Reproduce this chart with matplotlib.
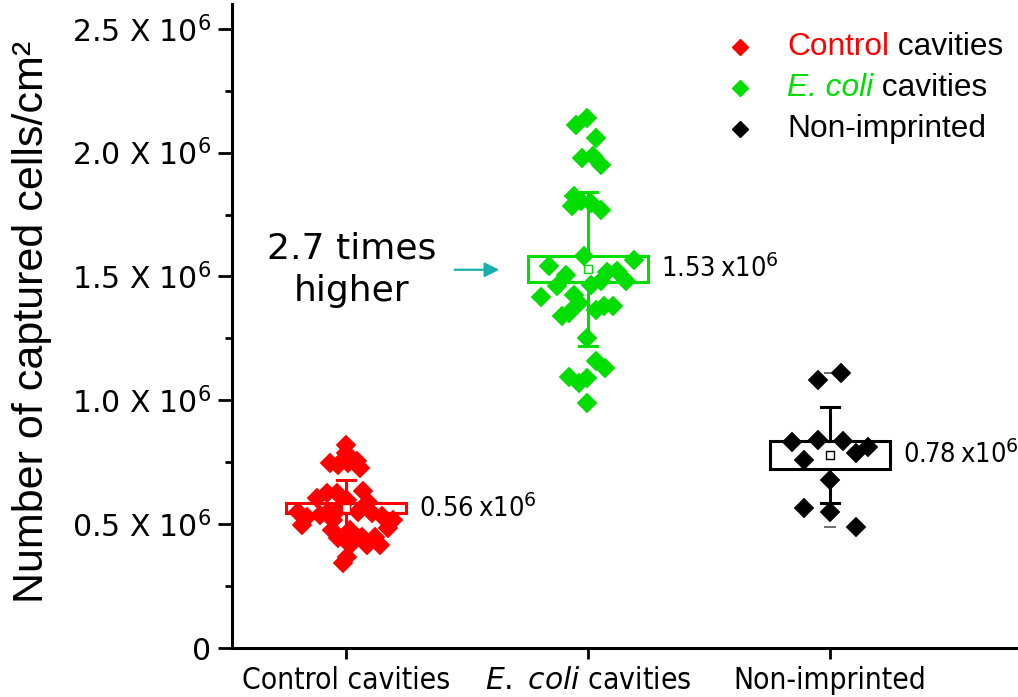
import numpy as np
import matplotlib.pyplot as plt
from matplotlib.patches import Rectangle

# Captured cells per cm^2 (x10^6), with horizontal jitter
control_vals = [0.820, 0.787, 0.746, 0.739, 0.746, 0.753, 0.726,
                0.605, 0.625, 0.625, 0.598, 0.632, 0.591, 0.551, 0.530,
                0.497, 0.537, 0.551, 0.558, 0.517, 0.551, 0.544, 0.531,
                0.517, 0.484, 0.477, 0.443, 0.477, 0.450, 0.450, 0.416,
                0.416, 0.416, 0.369, 0.343]
control_jitter = [0.0, 0.0, -0.066, -0.032, 0.010, 0.044, 0.058,
                  -0.121, -0.080, -0.038, 0.003, 0.072, 0.092, -0.197, -0.162,
                  -0.183, -0.107, -0.073, -0.032, -0.052, 0.051, 0.106, 0.148,
                  0.195, 0.175, -0.059, -0.032, 0.017, 0.065, 0.120, 0.140,
                  0.085, 0.017, 0.003, -0.011]

ecoli_vals = [2.113, 2.140, 2.059, 1.979, 1.985, 1.952, 1.823, 1.786, 1.803,
              1.797, 1.770, 1.581, 1.543, 1.565, 1.507, 1.460, 1.419, 1.520,
              1.524, 1.480, 1.467, 1.480, 1.426, 1.393, 1.339, 1.352, 1.366,
              1.379, 1.379, 1.251, 1.157, 1.130, 1.096, 1.069, 1.090, 0.989]
ecoli_jitter = [-0.048, -0.003, 0.032, -0.024, 0.021, 0.052, -0.058, -0.065,
                -0.030, 0.011, 0.052, -0.017, -0.161, 0.190, -0.092, -0.127,
                -0.195, 0.080, 0.121, 0.052, 0.011, 0.156, -0.058, -0.037,
                -0.106, -0.079, 0.032, 0.066, 0.103, -0.003, 0.032, 0.070,
                -0.079, -0.037, -0.003, -0.003]

nonimp_vals = [1.080, 1.110, 0.831, 0.840, 0.836, 0.813, 0.787, 0.760,
               0.679, 0.567, 0.551, 0.490]
nonimp_jitter = [-0.048, 0.045, -0.156, -0.051, 0.055, 0.158, 0.106, -0.106,
                 0.0, -0.106, 0.0, 0.106]

# summary stats (x10^6): box = mean +/- SE, whiskers = mean +/- SD
group_mean = [0.564, 1.531, 0.780]
group_sd = [0.115, 0.311, 0.193]
group_se = [0.020, 0.052, 0.056]

categories = ['Control cavities', r'$\mathit{E.}$ $\mathit{coli}$ cavities', 'Non-imprinted']
colors = ['#ff0000', '#00dd00', '#000000']

ytick_vals = [0, 0.5, 1.0, 1.5, 2.0, 2.5]
ytick_labels = ['0'] + ['%.1f X 10$^6$' % v for v in ytick_vals[1:]]

fig = plt.figure(figsize=(10.18, 6.97), dpi=100)
ax = fig.add_axes([232 / 1018, 49 / 697, 1 - 232 / 1018, 644 / 697])

groups = [(control_vals, control_jitter), (ecoli_vals, ecoli_jitter),
          (nonimp_vals, nonimp_jitter)]
half_w = 0.247
cap_w = 0.036
lw = 2.2
for i, (vals, jit) in enumerate(groups):
    pos = i + 1
    col = colors[i]
    vals = np.array(vals) * 1e6
    jit = np.array(jit)
    m = group_mean[i] * 1e6
    sd = group_sd[i] * 1e6
    se = group_se[i] * 1e6

    # box
    ax.add_patch(Rectangle((pos - half_w, m - se), 2 * half_w, 2 * se,
                           fill=False, ec=col, lw=lw, zorder=2))
    # whiskers + caps
    ax.plot([pos, pos], [m + se, m + sd], color=col, lw=lw, zorder=2)
    ax.plot([pos, pos], [m - sd, m - se], color=col, lw=lw, zorder=2)
    ax.plot([pos - cap_w, pos + cap_w], [m + sd, m + sd], color=col, lw=lw, zorder=2)
    ax.plot([pos - cap_w, pos + cap_w], [m - sd, m - sd], color=col, lw=lw, zorder=2)
    # min / max dashes
    ax.plot([pos, pos], [vals.min(), vals.max()], ls='none', marker='_',
            ms=9, mew=1.2, color='#555555' if col == '#000000' else col, zorder=1)
    # points
    ax.plot(pos + jit, vals, ls='none', marker='D', ms=9.8, color=col,
            mec=col, mew=0.3, zorder=3)
    # mean marker
    ax.plot(pos, m, marker='s', ms=6, mfc='white', mec=col, mew=1, zorder=4)
    # value label
    ax.text(pos + 0.30, m, '%.2f\u2009x10$^6$' % group_mean[i], fontsize=19.5,
            family='DejaVu Sans', fontstretch='condensed', va='center', ha='left')

ax.annotate('', xy=(1.645, 1.527e6), xytext=(1.438, 1.527e6),
            arrowprops=dict(arrowstyle='-|>', color='#1aafaf', lw=1.6,
                            mutation_scale=22))
ax.text(1.025, 1.527e6, '2.7 times\nhigher', fontsize=26, family='DejaVu Sans',
        ha='center', va='center', linespacing=1.3)

# legend drawn by hand (two-coloured labels)
leg_y = [0.933, 0.870, 0.806]
for k in range(3):
    ax.plot([0.646], [leg_y[k]], marker='D', ms=8, color=colors[k],
            transform=ax.transAxes, clip_on=False)
t1 = ax.text(0.706, leg_y[0], 'Control', color=colors[0], fontsize=22.8,
             family='Liberation Sans', transform=ax.transAxes, va='center')
ax.annotate(' cavities', xy=(1, 0), xycoords=t1, va='bottom', ha='left',
            fontsize=22.8, family='Liberation Sans', color='black')
t2 = ax.text(0.706, leg_y[1], 'E. coli', color=colors[1], fontsize=22.8,
             family='Liberation Sans', style='italic', transform=ax.transAxes,
             va='center')
ax.annotate(' cavities', xy=(1, 0), xycoords=t2, va='bottom', ha='left',
            fontsize=22.8, family='Liberation Sans', color='black')
ax.text(0.706, leg_y[2], 'Non-imprinted', color='black', fontsize=22.8,
        family='Liberation Sans', transform=ax.transAxes, va='center')

# axes styling
ax.set_xlim(0.529, 3.777)
ax.set_ylim(0, 2.6e6)
ax.set_xticks([1, 2, 3])
ax.set_xticklabels(categories, fontsize=21.5, family='DejaVu Sans',
                   fontstretch='condensed')
ax.set_yticks([v * 1e6 for v in ytick_vals])
ax.set_yticklabels(ytick_labels, fontsize=21.5, family='DejaVu Sans')
ax.set_yticks([v * 1e6 for v in [0.25, 0.75, 1.25, 1.75, 2.25]], minor=True)
ax.tick_params(axis='y', which='major', length=10, width=2, direction='out', pad=5)
ax.tick_params(axis='y', which='minor', length=5, width=2, direction='out')
ax.tick_params(axis='x', which='major', length=8, width=2, direction='out', pad=5)
for s in ['top', 'right']:
    ax.spines[s].set_visible(False)
for s in ['left', 'bottom']:
    ax.spines[s].set_linewidth(2.2)

fig.text(0.031, 1 - 322 / 697, 'Number of captured cells/cm²', rotation=90,
         fontsize=31, family='Liberation Sans', ha='center', va='center')

fig.savefig('out.png', dpi=100)
